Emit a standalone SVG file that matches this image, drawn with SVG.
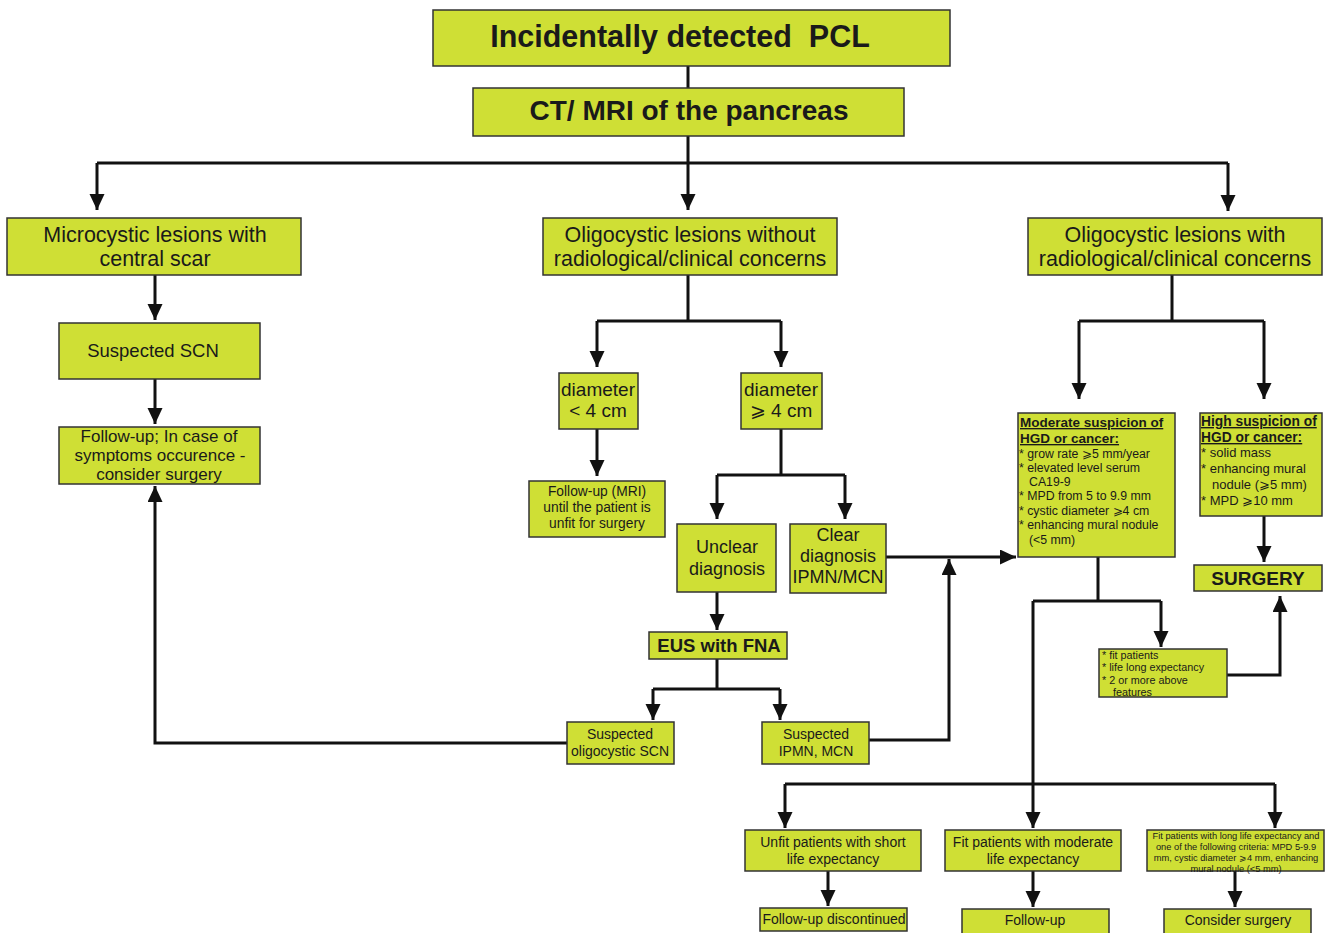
<svg xmlns="http://www.w3.org/2000/svg" width="1327" height="933" viewBox="0 0 1327 933">
<defs>
<marker id="ah" markerUnits="userSpaceOnUse" markerWidth="16" markerHeight="16" refX="16" refY="7.5" orient="auto">
<path d="M0,0 L16,7.5 L0,15 z" fill="#111"/>
</marker>
<style>
.b{fill:#cfdf35;stroke:#333;stroke-width:1.5}
text{font-family:"Liberation Sans",Arial,sans-serif;fill:#1a1a1a}
.c{text-anchor:middle}
.bd{font-weight:bold}
.u{text-decoration:underline}
.ln{fill:none;stroke:#111;stroke-width:3}
.la{fill:none;stroke:#111;stroke-width:3;marker-end:url(#ah)}
</style>
</defs>
<rect width="1327" height="933" fill="#fff"/>
<g id="connectors">
<path class="ln" d="M688,66 V88"/>
<path class="ln" d="M688,136 V163"/>
<path class="ln" d="M97,163 H1228"/>
<path class="la" d="M97,163 V210"/>
<path class="la" d="M688,163 V210"/>
<path class="la" d="M1228,163 V211"/>
<path class="la" d="M155,275 V320"/>
<path class="la" d="M155,379 V424"/>
<path class="ln" d="M688,275 V321 M597,321 H781"/>
<path class="la" d="M597,321 V367"/>
<path class="la" d="M781,321 V367"/>
<path class="la" d="M597,429 V476"/>
<path class="ln" d="M781,429 V475 M717,475 H845"/>
<path class="la" d="M717,475 V519"/>
<path class="la" d="M845,475 V519"/>
<path class="la" d="M717,592 V630"/>
<path class="ln" d="M717,659 V689 M653,689 H780"/>
<path class="la" d="M653,689 V720"/>
<path class="la" d="M780,689 V720"/>
<path class="la" d="M567,743 H155 V486"/>
<path class="la" d="M869,740 H949 V559"/>
<path class="la" d="M886,557 H1016"/>
<path class="ln" d="M1172,275 V321 M1079,321 H1264"/>
<path class="la" d="M1079,321 V399"/>
<path class="la" d="M1264,321 V399"/>
<path class="la" d="M1264,516 V562"/>
<path class="ln" d="M1098,557 V601 M1033,601 H1161"/>
<path class="la" d="M1161,601 V647"/>
<path class="la" d="M1227,675 H1280 V596"/>
<path class="la" d="M1033,601 V828"/>
<path class="ln" d="M785,784 H1275"/>
<path class="la" d="M785,784 V828"/>
<path class="la" d="M1275,784 V828"/>
<path class="la" d="M828,871 V906"/>
<path class="la" d="M1033,871 V907"/>
<path class="la" d="M1235,871 V907"/>
</g>
<g id="n-pcl"><rect class="b" x="433" y="10" width="517" height="56"/><text class="c bd" x="680" y="47" font-size="30.5" xml:space="preserve">Incidentally detected  PCL</text></g>
<g id="n-ct"><rect class="b" x="473" y="88" width="431" height="48"/><text class="c bd" x="689" y="120" font-size="28">CT/ MRI of the pancreas</text></g>
<g id="n-micro"><rect class="b" x="7" y="218" width="294" height="57"/><text class="c" x="155" y="242" font-size="21.5">Microcystic lesions with</text><text class="c" x="155" y="266" font-size="21.5">central scar</text></g>
<g id="n-oligo-wo"><rect class="b" x="543" y="218" width="294" height="57"/><text class="c" x="690" y="242" font-size="21.5">Oligocystic lesions without</text><text class="c" x="690" y="266" font-size="21.5">radiological/clinical concerns</text></g>
<g id="n-oligo-w"><rect class="b" x="1028" y="218" width="294" height="57"/><text class="c" x="1175" y="242" font-size="21.5">Oligocystic lesions with</text><text class="c" x="1175" y="266" font-size="21.5">radiological/clinical concerns</text></g>
<g id="n-scn"><rect class="b" x="59" y="323" width="201" height="56"/><text class="c" x="153" y="357" font-size="18.5">Suspected SCN</text></g>
<g id="n-fu1"><rect class="b" x="59" y="427" width="201" height="57"/><text class="c" x="159" y="442" font-size="17">Follow-up; In case of</text><text class="c" x="160" y="461" font-size="17">symptoms occurence -</text><text class="c" x="159" y="480" font-size="17">consider surgery</text></g>
<g id="n-dlt"><rect class="b" x="559" y="373" width="79" height="56"/><text class="c" x="598" y="396" font-size="19">diameter</text><text class="c" x="598" y="417" font-size="19">&lt; 4 cm</text></g>
<g id="n-dge"><rect class="b" x="741" y="373" width="81" height="56"/><text class="c" x="781" y="396" font-size="19">diameter</text><text class="c" x="781" y="417" font-size="19">⩾ 4 cm</text></g>
<g id="n-fumri"><rect class="b" x="529" y="481" width="136" height="56"/><text class="c" x="597" y="496" font-size="13.8">Follow-up (MRI)</text><text class="c" x="597" y="512" font-size="13.8">until the patient is</text><text class="c" x="597" y="528" font-size="13.8">unfit for surgery</text></g>
<g id="n-unclear"><rect class="b" x="677" y="524" width="99" height="68"/><text class="c" x="727" y="553" font-size="18">Unclear</text><text class="c" x="727" y="575" font-size="18">diagnosis</text></g>
<g id="n-clear"><rect class="b" x="790" y="524" width="96" height="69"/><text class="c" x="838" y="541" font-size="18">Clear</text><text class="c" x="838" y="562" font-size="18">diagnosis</text><text class="c" x="838" y="583" font-size="18">IPMN/MCN</text></g>
<g id="n-eus"><rect class="b" x="649" y="632" width="138" height="27"/><text class="c bd" x="719" y="652" font-size="18.5">EUS with FNA</text></g>
<g id="n-sscn"><rect class="b" x="567" y="722" width="107" height="42"/><text class="c" x="620" y="739" font-size="14">Suspected</text><text class="c" x="620" y="756" font-size="14">oligocystic SCN</text></g>
<g id="n-sipmn"><rect class="b" x="762" y="722" width="107" height="42"/><text class="c" x="816" y="739" font-size="14">Suspected</text><text class="c" x="816" y="756" font-size="14">IPMN, MCN</text></g>
<g id="n-mod"><rect class="b" x="1018" y="413" width="157" height="144"/>
<text x="1020" y="427" font-size="13.5" class="bd u">Moderate suspicion of</text>
<text x="1020" y="443" font-size="13.5" class="bd u">HGD or cancer:</text>
<text x="1019" y="458" font-size="12.3">* grow rate ⩾5 mm/year</text>
<text x="1019" y="472" font-size="12.3">* elevated level serum</text>
<text x="1029" y="486" font-size="12.3">CA19-9</text>
<text x="1019" y="500" font-size="12.3">* MPD from 5 to 9.9 mm</text>
<text x="1019" y="515" font-size="12.3">* cystic diameter ⩾4 cm</text>
<text x="1019" y="529" font-size="12.3">* enhancing mural nodule</text>
<text x="1029" y="544" font-size="12.3">(&lt;5 mm)</text>
</g>
<g id="n-high"><rect class="b" x="1200" y="413" width="122" height="103"/>
<text x="1201" y="426" font-size="13.8" class="bd u">High suspicion of</text>
<text x="1201" y="442" font-size="13.8" class="bd u">HGD or cancer:</text>
<text x="1201" y="457" font-size="13">* solid mass</text>
<text x="1201" y="473" font-size="13">* enhancing mural</text>
<text x="1212" y="489" font-size="13">nodule (⩾5 mm)</text>
<text x="1201" y="505" font-size="13">* MPD ⩾10 mm</text>
</g>
<g id="n-surgery"><rect class="b" x="1194" y="565" width="128" height="26"/><text class="c bd" x="1258" y="585" font-size="19">SURGERY</text></g>
<g id="n-fit"><rect class="b" x="1099" y="649" width="128" height="48"/>
<text x="1102" y="659" font-size="10.8">* fit patients</text>
<text x="1102" y="671" font-size="10.8">* life long expectancy</text>
<text x="1102" y="684" font-size="10.8">* 2 or more above</text>
<text x="1113" y="696" font-size="10.8">features</text>
</g>
<g id="n-unfit"><rect class="b" x="745" y="830" width="176" height="41"/><text class="c" x="833" y="847" font-size="14">Unfit patients with short</text><text class="c" x="833" y="864" font-size="14">life expectancy</text></g>
<g id="n-fitmod"><rect class="b" x="945" y="830" width="176" height="41"/><text class="c" x="1033" y="847" font-size="14">Fit patients with moderate</text><text class="c" x="1033" y="864" font-size="14">life expectancy</text></g>
<g id="n-fitlong"><rect class="b" x="1147" y="830" width="177" height="41"/>
<text class="c" x="1236" y="839" font-size="9.3">Fit patients with long life expectancy and</text>
<text class="c" x="1236" y="850" font-size="9.3">one of the following criteria: MPD 5-9.9</text>
<text class="c" x="1236" y="861" font-size="9.3">mm, cystic diameter ⩾4 mm, enhancing</text>
<text class="c" x="1236" y="872" font-size="9.3">mural nodule (&lt;5 mm)</text>
</g>
<g id="n-fudisc"><rect class="b" x="760" y="908" width="147" height="23"/><text class="c" x="834" y="924" font-size="14">Follow-up discontinued</text></g>
<g id="n-fu2"><rect class="b" x="962" y="909" width="147" height="26"/><text class="c" x="1035" y="925" font-size="14">Follow-up</text></g>
<g id="n-consider"><rect class="b" x="1164" y="909" width="147" height="26"/><text class="c" x="1238" y="925" font-size="14">Consider surgery</text></g>
</svg>
